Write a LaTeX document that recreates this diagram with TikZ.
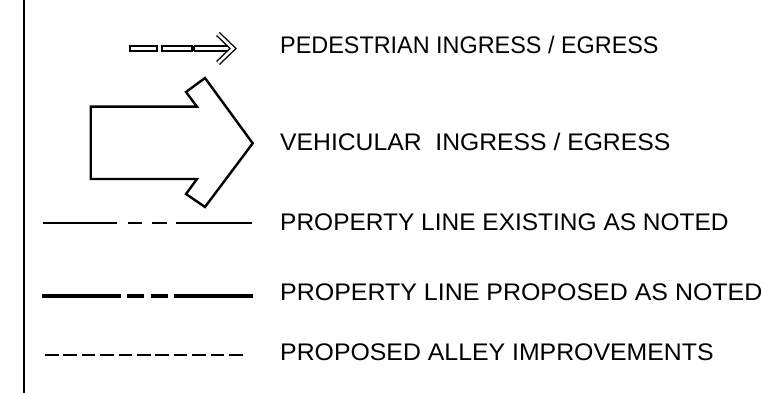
\documentclass[tikz,border=0pt]{standalone}
\usepackage{fontspec}
\setmainfont{Liberation Sans}
\begin{document}
\begin{tikzpicture}[x=1pt,y=-1pt,
  lbl/.style={anchor=base west, inner sep=0pt, font=\fontsize{24}{28}\selectfont},
  thinprop/.style={line width=2pt},
  thickprop/.style={line width=4pt},
  alley/.style={line width=1.6pt, dash pattern=on 13.5pt off 4.9pt},
  pedseg/.style={draw, line width=1.3pt},
  vehic/.style={draw, line width=2.4pt, line join=miter}]
\useasboundingbox (0,0) rectangle (761,393);
% left border line
\draw[line width=1.6pt] (24,0) -- (24,393);
% pedestrian arrow
\draw[pedseg] (130,46) rectangle (157,51);
\draw[pedseg] (162,46) rectangle (192,51);
\draw[pedseg] (194,46) -- (230,46);
\draw[pedseg] (194,51) -- (230,51);
\draw[pedseg] (194,46) -- (194,51);
\draw[line width=1.4pt, double distance=2.6pt, line join=miter] (218,34) -- (233,48.5) -- (218,63);
% vehicular arrow
\draw[vehic] (90.7,106.7) -- (197,106.7) -- (186,92) -- (205,78) -- (252.7,143.3) -- (205,207) -- (186,194) -- (197,179) -- (90.7,179) -- cycle;
% property line existing
\draw[thinprop] (43,223.3) -- (117,223.3);
\draw[thinprop] (128,223.3) -- (142,223.3);
\draw[thinprop] (152,223.3) -- (167,223.3);
\draw[thinprop] (176,223.3) -- (252,223.3);
% property line proposed
\draw[thickprop] (42,296) -- (121,296);
\draw[thickprop] (127,296) -- (144,296);
\draw[thickprop] (151,296) -- (168,296);
\draw[thickprop] (174,296) -- (253,296);
% alley
\draw[alley] (45,355) -- (243,355);
% labels
\node[lbl] (ped) at (280,53.3) {\scalebox{0.975}[1]{PEDESTRIAN INGRESS / EGRESS}};
\node[lbl] (veh) at (280,150.7) {\scalebox{1.03}[1]{VEHICULAR\ \ INGRESS / EGRESS}};
\node[lbl] (ex) at (280,230) {\scalebox{1.02}[1]{PROPERTY LINE EXISTING AS NOTED}};
\node[lbl] (pr) at (280,300.7) {\scalebox{1.04}[1]{PROPERTY LINE PROPOSED AS NOTED}};
\node[lbl] (al) at (280,360.7) {\scalebox{1.035}[1]{PROPOSED ALLEY IMPROVEMENTS}};
\end{tikzpicture}
\end{document}
